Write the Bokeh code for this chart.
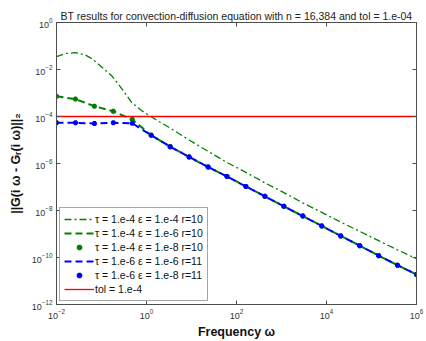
from bokeh.plotting import figure
from bokeh.models import LogAxis, FixedTicker, Legend, LegendItem, Range1d
from bokeh.embed import file_html
from bokeh.resources import INLINE

# ---- data ----
omega = [1.0e-2, 2.64e-2, 6.95e-2, 1.83e-1, 4.83e-1, 1.27, 3.36, 8.86, 23.4, 61.6,
         162, 428, 1130, 2980, 7850, 20700, 54600, 144000, 379000, 1.0e6]

omega_dd = [1.0e-2, 1.58e-2, 2.64e-2, 4.41e-2, 6.3e-2, 1.11e-1, 1.75e-1, 2.93e-1,
            4.65e-1, 7.74e-1, 1.29, 3.36, 8.86, 23.4, 61.6, 162, 428, 1130, 2980,
            7850, 20700, 54600, 144000, 379000, 1.0e6]
err_t4_e4 = [3.5e-2, 4.8e-2, 5.2e-2, 4.1e-2, 2.8e-2, 1.1e-2, 5.0e-3, 1.4e-3, 4.0e-4,
             1.8e-4, 9.5e-5, 3.2e-5, 1.0e-5, 3.3e-6, 1.1e-6, 4.2e-7, 1.5e-7, 5.8e-8,
             2.1e-8, 8.3e-9, 3.2e-9, 1.3e-9, 5.2e-10, 2.1e-10, 8.9e-11]

err_t4_e6 = [7.2e-4, 5.5e-4, 2.75e-4, 1.66e-4, 7.4e-5, 1.6e-5, 5.2e-6, 1.9e-6, 7.1e-7,
             2.8e-7, 1.05e-7, 4.0e-8, 1.5e-8, 5.8e-9, 2.2e-9, 8.3e-10, 3.2e-10,
             1.2e-10, 4.7e-11, 1.9e-11]
err_t4_e8 = [7.2e-4, 5.5e-4, 2.75e-4, 1.66e-4, 7.4e-5, 1.6e-5, 5.2e-6, 1.9e-6, 7.1e-7,
             2.8e-7, 1.05e-7, 4.0e-8, 1.5e-8, 5.8e-9, 2.2e-9, 8.3e-10, 3.2e-10,
             1.2e-10, 4.7e-11, 1.9e-11]
err_t6_e6 = [5.4e-5, 5.4e-5, 5.0e-5, 5.4e-5, 5.1e-5, 1.6e-5, 5.2e-6, 1.9e-6, 7.1e-7,
             2.8e-7, 1.05e-7, 4.0e-8, 1.5e-8, 5.8e-9, 2.2e-9, 8.3e-10, 3.2e-10,
             1.2e-10, 4.7e-11, 1.9e-11]
err_t6_e8 = [5.4e-5, 5.4e-5, 5.0e-5, 5.4e-5, 5.1e-5, 1.6e-5, 5.2e-6, 1.9e-6, 7.1e-7,
             2.8e-7, 1.05e-7, 4.0e-8, 1.5e-8, 5.8e-9, 2.2e-9, 8.3e-10, 3.2e-10,
             1.2e-10, 4.7e-11, 1.9e-11]

tol_omega = [1.0e-2, 1.0e6]
tol_value = [1.0e-4, 1.0e-4]

x_ticks = [1e-2, 1e0, 1e2, 1e4, 1e6]
y_ticks = [1e-12, 1e-10, 1e-8, 1e-6, 1e-4, 1e-2, 1e0]

labels = ["τ = 1.e-4 ε = 1.e-4 r=10",
          "τ = 1.e-4 ε = 1.e-6 r=10",
          "τ = 1.e-4 ε = 1.e-8 r=10",
          "τ = 1.e-6 ε = 1.e-6 r=11",
          "τ = 1.e-6 ε = 1.e-8 r=11",
          "tol = 1.e-4"]

GREEN = "#008000"
BLUE = "#0000ff"
RED = "#ff0000"
AXC = "#4d4d4d"
FONT = "Liberation Sans"

p = figure(width=426, height=341, x_axis_type="log", y_axis_type="log",
           x_range=Range1d(1e-2, 1e6), y_range=Range1d(1e-12, 1e0),
           output_backend="svg", toolbar_location=None,
           min_border_left=56, min_border_right=10, min_border_top=22,
           min_border_bottom=34, background_fill_color="white",
           border_fill_color="white")
p.grid.visible = False
p.outline_line_color = AXC

p.title.text = "BT results for convection-diffusion equation with n = 16,384 and tol = 1.e-04"
p.title.align = "center"
p.title.text_font = FONT
p.title.text_font_style = "normal"
p.title.text_font_size = "10.5px"
p.title.text_color = "#222222"
p.title.offset = 0
p.title.standoff = 2

r1 = p.line(omega_dd, err_t4_e4, line_color=GREEN, line_width=1.3, line_dash="7 3 2 3")
r2 = p.line(omega, err_t4_e6, line_color=GREEN, line_width=2, line_dash="7 4")
r3 = p.scatter(omega, err_t4_e8, marker="asterisk", size=5, line_color=GREEN, line_width=2)
r4 = p.line(omega, err_t6_e6, line_color=BLUE, line_width=2, line_dash="7 4")
r5 = p.scatter(omega, err_t6_e8, marker="asterisk", size=5, line_color=BLUE, line_width=2)
r6 = p.line(tol_omega, tol_value, line_color=RED, line_width=1.3)

def style_axis(ax, show_labels=True):
    ax.major_tick_in = 4
    ax.major_tick_out = 0
    ax.minor_tick_in = 0
    ax.minor_tick_out = 0
    ax.axis_line_color = AXC
    ax.major_tick_line_color = AXC
    ax.major_label_text_font = FONT
    if show_labels:
        ax.major_label_text_font_size = "9px"
        ax.major_label_text_color = "#333333"
        ax.major_label_standoff = 4
    else:
        ax.major_label_text_font_size = "1px"
        ax.major_label_text_alpha = 0
        ax.major_label_standoff = 0

xa = p.xaxis[0]
ya = p.yaxis[0]
xa.ticker = FixedTicker(ticks=x_ticks)
ya.ticker = FixedTicker(ticks=y_ticks)
style_axis(xa)
style_axis(ya)
xa.axis_label = "Frequency ω"
ya.axis_label = "||G(i ω - Gᵣ(i ω)||₂"
for ax in (xa, ya):
    ax.axis_label_text_font = FONT
    ax.axis_label_text_font_style = "bold"
    ax.axis_label_text_font_size = "12.5px"
    ax.axis_label_text_color = "#111111"
xa.axis_label_standoff = 3
ya.axis_label_standoff = 6

top = LogAxis(ticker=FixedTicker(ticks=x_ticks))
right = LogAxis(ticker=FixedTicker(ticks=y_ticks))
style_axis(top, False)
style_axis(right, False)
p.add_layout(top, "above")
p.add_layout(right, "right")

legend = Legend(items=[LegendItem(label=labels[0], renderers=[r1]),
                       LegendItem(label=labels[1], renderers=[r2]),
                       LegendItem(label=labels[2], renderers=[r3]),
                       LegendItem(label=labels[3], renderers=[r4]),
                       LegendItem(label=labels[4], renderers=[r5]),
                       LegendItem(label=labels[5], renderers=[r6])],
                location="bottom_left")
legend.margin = 3
legend.padding = 4
legend.spacing = 0
legend.label_height = 14
legend.glyph_height = 14
legend.glyph_width = 30
legend.label_standoff = 1
legend.label_text_font = FONT
legend.label_text_font_size = "10.5px"
legend.label_text_color = "#111111"
legend.border_line_color = AXC
legend.background_fill_color = "white"
legend.background_fill_alpha = 1
p.add_layout(legend, "center")

open("out.html", "w").write(file_html(p, INLINE))
